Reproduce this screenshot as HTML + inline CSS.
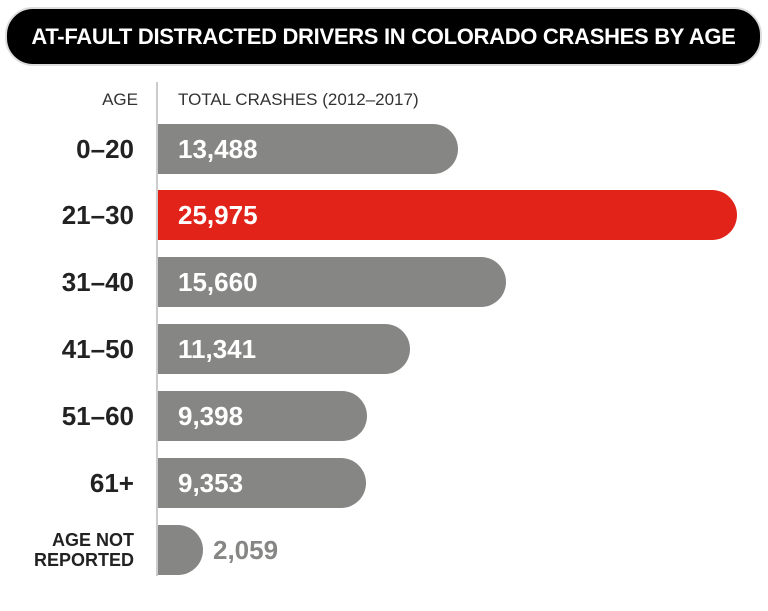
<!DOCTYPE html>
<html><head><style>
body{margin:0;width:768px;height:611px;background:#fff;position:relative;overflow:hidden;font-family:"Liberation Sans",sans-serif}
.title{position:absolute;left:5px;top:7px;width:753px;height:55px;background:#000;border-radius:28px;border:2px solid #ddd;color:#fff;font-weight:bold;font-size:22px;text-align:center;line-height:55px;letter-spacing:-0.3px}
.axis{position:absolute;left:156px;top:82px;width:2px;height:494px;background:#ccc}
.h{position:absolute;top:90px;font-size:17px;color:#333}
.bar{position:absolute;left:158px;height:50px;background:#868785;border-radius:0 25px 25px 0}
.v{position:absolute;left:178px;font-weight:bold;font-size:26px;color:#fff;line-height:50px}
.a{position:absolute;right:634px;font-weight:bold;font-size:26px;color:#222;line-height:50px;text-align:right}
</style></head><body>
<div class="title">AT-FAULT DISTRACTED DRIVERS IN COLORADO CRASHES BY AGE</div>
<div class="axis"></div>
<div class="h" style="right:630px">AGE</div>
<div class="h" style="left:178px">TOTAL CRASHES (2012–2017)</div>

<div class="bar" style="top:124px;width:300px"></div><div class="v" style="top:124px">13,488</div><div class="a" style="top:124px">0–20</div>
<div class="bar" style="top:190px;width:579px;background:#e2231a"></div><div class="v" style="top:190px">25,975</div><div class="a" style="top:190px">21–30</div>
<div class="bar" style="top:257px;width:348px"></div><div class="v" style="top:257px">15,660</div><div class="a" style="top:257px">31–40</div>
<div class="bar" style="top:324px;width:252px"></div><div class="v" style="top:324px">11,341</div><div class="a" style="top:324px">41–50</div>
<div class="bar" style="top:391px;width:209px"></div><div class="v" style="top:391px">9,398</div><div class="a" style="top:391px">51–60</div>
<div class="bar" style="top:458px;width:208px"></div><div class="v" style="top:458px">9,353</div><div class="a" style="top:458px">61+</div>
<div class="bar" style="top:525px;width:45px"></div><div class="v" style="top:525px;left:213px;color:#868785">2,059</div>
<div class="a" style="top:530px;font-size:18px;line-height:20px">AGE NOT<br>REPORTED</div>
</body></html>
